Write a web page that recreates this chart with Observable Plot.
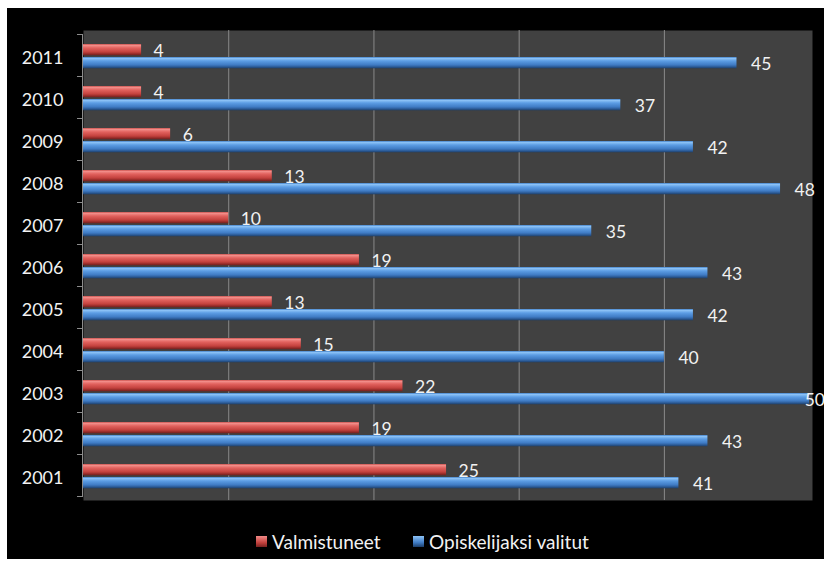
<!DOCTYPE html>
<html>
<head>
<meta charset="utf-8">
<script src="https://cdn.jsdelivr.net/npm/d3@7"></script>
<script src="https://cdn.jsdelivr.net/npm/@observablehq/plot@0.6"></script>
<style>
  html, body { margin: 0; padding: 0; background: #ffffff; }
  #frame { position: absolute; left: 7px; top: 8px; width: 817px; height: 551px; background: #000; overflow: hidden; font-family: Lato, "Open Sans", sans-serif; }
  #legend { position: absolute; left: 0; top: 510px; width: 817px; height: 41px; color: #f2f2f2; font-size: 19px; }
  .item { position: absolute; top: 12px; display: flex; align-items: center; gap: 5px; white-space: nowrap; }
  .sw { width: 11px; height: 11px; display: inline-block; }
</style>
</head>
<body>
<div id="frame">
  <div id="chart"></div>
  <div id="legend"></div>
</div>
<script>
const years = ["2011","2010","2009","2008","2007","2006","2005","2004","2003","2002","2001"];
const valmistuneet = [4, 4, 6, 13, 10, 19, 13, 15, 22, 19, 25];
const valitut = [45, 37, 42, 48, 35, 43, 42, 40, 50, 43, 41];
const seriesNames = ["Valmistuneet", "Opiskelijaksi valitut"];
const gridTicks = [10, 20, 30, 40];

const red = years.map((y, i) => ({year: y, v: valmistuneet[i]}));
const blue = years.map((y, i) => ({year: y, v: valitut[i]}));

// labels that would run past the chart edge are pulled inward (as the original does)
const labelLimit = 48.7;

const defs = () => {
  const d = d3.create("svg:defs");
  const g1 = d.append("linearGradient").attr("id", "gRed").attr("x1", 0).attr("y1", 0).attr("x2", 0).attr("y2", 1);
  [[0, "#c9504c"], [0.12, "#f28e8a"], [0.35, "#e2625e"], [0.7, "#c4423e"], [0.85, "#9c2f2c"], [1, "#6e1e1c"]]
    .forEach(([o, c]) => g1.append("stop").attr("offset", o).attr("stop-color", c));
  const g2 = d.append("linearGradient").attr("id", "gBlue").attr("x1", 0).attr("y1", 0).attr("x2", 0).attr("y2", 1);
  [[0, "#3f7fc9"], [0.12, "#8cc2f6"], [0.35, "#5c9de4"], [0.7, "#3f7bc4"], [0.85, "#2e5f9c"], [1, "#1d3f6a"]]
    .forEach(([o, c]) => g2.append("stop").attr("offset", o).attr("stop-color", c));
  return d.node();
};

const boundaryTicks = (index, scales, values, dimensions) => {
  const y = scales.y, x = scales.x;
  const step = y(years[1]) - y(years[0]);
  const pos = years.map(yr => y(yr)).concat([y(years[years.length - 1]) + step]);
  const x0 = x(0);
  const g = d3.create("svg:g").attr("stroke", "#8c8c8c").attr("stroke-width", 1);
  g.selectAll("line.t").data(pos).join("line")
    .attr("x1", x0 - 6).attr("x2", x0).attr("y1", d => Math.round(d) + 0.5).attr("y2", d => Math.round(d) + 0.5);
  g.append("line").attr("x1", x0 - 0.5).attr("x2", x0 - 0.5).attr("y1", pos[0]).attr("y2", pos[pos.length - 1]);
  return g.node();
};

const chart = Plot.plot({
  width: 817,
  height: 510,
  marginLeft: 76,
  marginRight: 12,
  marginTop: 22,
  marginBottom: 18,
  style: { background: "transparent", color: "#f2f2f2", fontFamily: "Lato, 'Open Sans', sans-serif", overflow: "visible" },
  x: { domain: [0, 50.2], axis: null },
  y: { domain: years, padding: 0, label: null },
  marks: [
    defs,
    Plot.frame({ fill: "#414141", stroke: null }),
    Plot.ruleX(gridTicks, { stroke: "#8a8a8a", strokeWidth: 1 }),
    Plot.barX(red, { x: "v", y: "year", fill: "url(#gRed)", insetTop: 10, insetBottom: 20.7 }),
    Plot.barX(blue, { x: "v", y: "year", fill: "url(#gBlue)", insetTop: 23, insetBottom: 7.7 }),
    Plot.text(red, { x: d => Math.min(d.v, labelLimit), y: "year", text: d => String(d.v), dx: 12, dy: -4.5, textAnchor: "start", fill: "#f2f2f2", fontSize: 17.5 }),
    Plot.text(blue, { x: d => Math.min(d.v, labelLimit), y: "year", text: d => String(d.v), dx: 14, dy: 8.5, textAnchor: "start", fill: "#f2f2f2", fontSize: 17.5 }),
    Plot.axisY({ tickSize: 0, tickPadding: 20, fontSize: 18, dy: 2.5, label: null }),
    boundaryTicks
  ]
});
document.getElementById("chart").appendChild(chart);

const legend = document.getElementById("legend");
const lefts = [249, 406];
const fills = ["linear-gradient(#f08a87, #c4423e 60%, #7a2220)", "linear-gradient(#8cc2f6, #3f7bc4 60%, #1d3f6a)"];
seriesNames.forEach((name, i) => {
  const it = document.createElement("div");
  it.className = "item";
  it.style.left = lefts[i] + "px";
  const sw = document.createElement("span");
  sw.className = "sw";
  sw.style.background = fills[i];
  const t = document.createElement("span");
  t.textContent = name;
  it.appendChild(sw);
  it.appendChild(t);
  legend.appendChild(it);
});
</script>
</body>
</html>
